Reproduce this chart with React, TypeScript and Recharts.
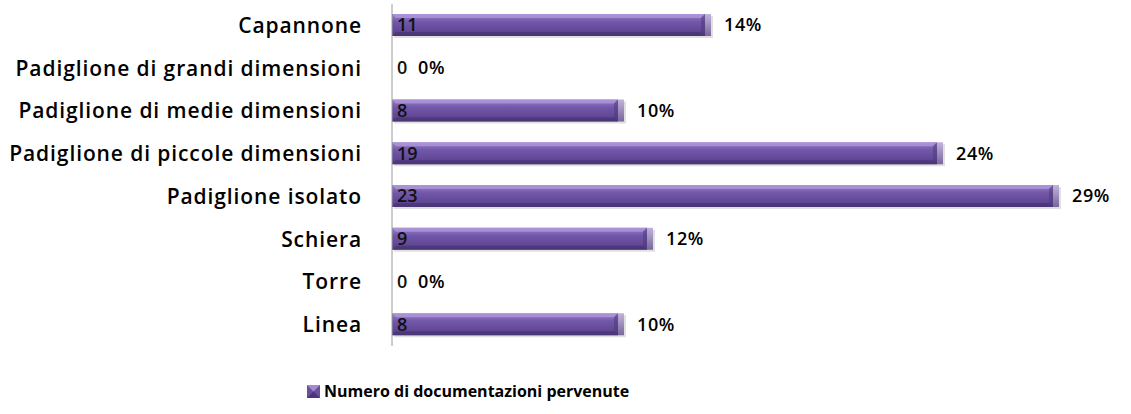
import { BarChart, Bar, XAxis, YAxis, LabelList, Legend } from "recharts"

const categories = [
	"Capannone",
	"Padiglione di grandi dimensioni",
	"Padiglione di medie dimensioni",
	"Padiglione di piccole dimensioni",
	"Padiglione isolato",
	"Schiera",
	"Torre",
	"Linea",
]
const counts = [11, 0, 8, 19, 23, 9, 0, 8]
const percents = ["14%", "0%", "10%", "24%", "29%", "12%", "0%", "10%"]
const seriesName = "Numero di documentazioni pervenute"

const data = categories.map((name, i) => ({ name, value: counts[i], pct: percents[i] }))

const font = "'Open Sans', Lato, sans-serif"

// bar drawn with a bevelled 3D look like the office original
function BevelBar(props: any) {
	const { x, y, width, height } = props
	if (!width || width <= 0) return null
	const cap = Math.min(6, width)
	const body = width - cap
	const b = 4
	return (
		<g>
			<rect x={x + 2} y={y + 2} width={width} height={height} fill="#000" opacity={0.12} />
			<rect x={x} y={y} width={body} height={height} fill="url(#barFill)" />
			<polygon
				points={`${x},${y} ${x + body},${y} ${x + body - b},${y + b} ${x + b},${y + b}`}
				fill="#b49be0"
				opacity={0.7}
			/>
			<polygon
				points={`${x},${y + height} ${x + body},${y + height} ${x + body - b},${y + height - b} ${x + b},${y + height - b}`}
				fill="#45336f"
				opacity={0.6}
			/>
			<polygon
				points={`${x + body},${y} ${x + body},${y + height} ${x + body - b},${y + height - b} ${x + body - b},${y + b}`}
				fill="#4a3778"
				opacity={0.5}
			/>
			<rect x={x + body} y={y} width={cap} height={height} fill="url(#capFill)" />
		</g>
	)
}

function PctLabel(props: any) {
	const { x, y, width, height, value } = props
	const px = width > 0 ? x + width + 13 : x + 26
	return (
		<text x={px} y={y + height / 2} dy="0.36em" fontFamily={font} fontWeight={600} fontSize={18} letterSpacing={0.6} fill="#000">
			{value}
		</text>
	)
}

function ValueLabel(props: any) {
	const { x, y, height, value } = props
	return (
		<text x={x + 5} y={y + height / 2} dy="0.36em" fontFamily={font} fontWeight={600} fontSize={18} fill="#111">
			{value}
		</text>
	)
}

function LegendBox() {
	return (
		<div style={{ display: "flex", alignItems: "center", fontFamily: font, fontWeight: 700, fontSize: 16, color: "#000" }}>
			<svg width={13} height={13} style={{ marginRight: 4 }}>
				<rect x={0} y={0} width={13} height={13} fill="#6a4f9e" />
				<polygon points="0,0 13,0 6.5,6.5" fill="#a48ad2" />
				<polygon points="0,13 13,13 6.5,6.5" fill="#4a3676" />
			</svg>
			<span>{seriesName}</span>
		</div>
	)
}

export default function App() {
	return (
		<div style={{ position: "absolute", left: 0, top: 0, background: "#fff" }}>
			<BarChart
				width={1131}
				height={414}
				data={data}
				layout="vertical"
				margin={{ top: 4, right: 14, left: 0, bottom: 46 }}
				barSize={22}
			>
				<defs>
					<linearGradient id="barFill" x1="0" y1="0" x2="0" y2="1">
						<stop offset="0%" stopColor="#9a80cb" />
						<stop offset="35%" stopColor="#7258a8" />
						<stop offset="75%" stopColor="#634898" />
						<stop offset="100%" stopColor="#4e3a7c" />
					</linearGradient>
					<linearGradient id="capFill" x1="0" y1="0" x2="0" y2="1">
						<stop offset="0%" stopColor="#c2b3dc" />
						<stop offset="100%" stopColor="#77679a" />
					</linearGradient>
				</defs>
				<XAxis type="number" domain={[0, 25]} hide />
				<YAxis
					type="category"
					dataKey="name"
					width={392}
					tickLine={false}
					tickSize={0}
					tickMargin={30}
					axisLine={{ stroke: "#9a9a9a" }}
					tick={{ fontFamily: font, fontWeight: 600, fontSize: 21, letterSpacing: 0.9, fill: "#000" }}
					interval={0}
				/>
				<Legend
					content={<LegendBox />}
					wrapperStyle={{ left: 307, top: 380, width: "auto" }}
				/>
				<Bar dataKey="value" name={seriesName} shape={<BevelBar />} isAnimationActive={false}>
					<LabelList dataKey="value" content={<ValueLabel />} />
					<LabelList dataKey="pct" content={<PctLabel />} />
				</Bar>
			</BarChart>
		</div>
	)
}
